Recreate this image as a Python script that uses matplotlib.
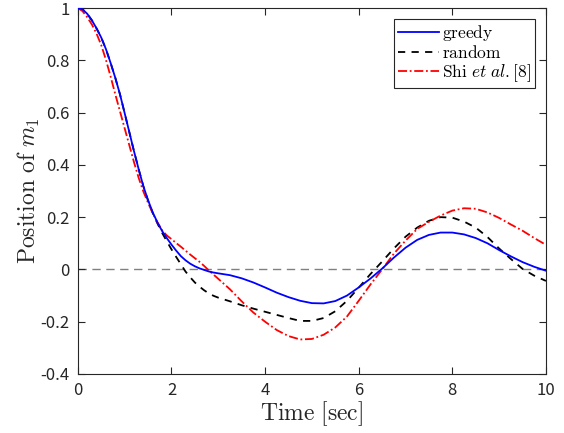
import matplotlib
matplotlib.use("Agg")
import matplotlib.pyplot as plt
from matplotlib.ticker import FixedLocator, FuncFormatter

plt.rcParams['mathtext.fontset'] = 'cm'

time = [0.0, 0.1, 0.2, 0.3, 0.4, 0.5, 0.6, 0.7, 0.8, 0.9, 1.0, 1.1, 1.2, 1.3,
        1.4, 1.5, 1.6, 1.7, 1.8, 1.9, 2.0, 2.1, 2.2, 2.3, 2.4, 2.5, 2.6, 2.7,
        2.8, 2.9, 3.0, 3.25, 3.5, 3.75, 4.0, 4.25, 4.5, 4.75, 5.0, 5.25, 5.5,
        5.75, 6.0, 6.25, 6.5, 6.75, 7.0, 7.25, 7.5, 7.75, 8.0, 8.25, 8.5,
        8.75, 9.0, 9.25, 9.5, 9.75, 10.0]

greedy = [1.0, 0.995, 0.978, 0.953, 0.922, 0.887, 0.843, 0.79, 0.733, 0.67,
          0.598, 0.525, 0.452, 0.383, 0.318, 0.265, 0.218, 0.18, 0.147, 0.12,
          0.095, 0.072, 0.051, 0.035, 0.022, 0.012, 0.004, -0.002, -0.008,
          -0.012, -0.015, -0.022, -0.034, -0.05, -0.069, -0.089, -0.106,
          -0.12, -0.129, -0.13, -0.121, -0.1, -0.069, -0.035, 0.003, 0.045,
          0.083, 0.113, 0.132, 0.141, 0.141, 0.134, 0.12, 0.1, 0.074, 0.05,
          0.028, 0.01, -0.005]

random_ = [1.0, 0.995, 0.978, 0.953, 0.922, 0.887, 0.843, 0.79, 0.733, 0.67,
           0.598, 0.525, 0.452, 0.383, 0.318, 0.263, 0.216, 0.176, 0.14,
           0.108, 0.077, 0.048, 0.02, -0.008, -0.03, -0.05, -0.066, -0.08,
           -0.092, -0.101, -0.108, -0.122, -0.137, -0.15, -0.162, -0.174,
           -0.186, -0.197, -0.197, -0.186, -0.16, -0.12, -0.07, -0.018, 0.03,
           0.08, 0.125, 0.16, 0.186, 0.2, 0.198, 0.183, 0.16, 0.124, 0.08,
           0.04, 0.002, -0.024, -0.044]

shi = [1.0, 0.988, 0.965, 0.937, 0.902, 0.858, 0.802, 0.738, 0.67, 0.605,
       0.54, 0.475, 0.41, 0.35, 0.298, 0.255, 0.215, 0.18, 0.15, 0.13, 0.116,
       0.101, 0.087, 0.072, 0.057, 0.043, 0.029, 0.013, -0.004, -0.02,
       -0.036, -0.076, -0.122, -0.165, -0.2, -0.232, -0.255, -0.268, -0.266,
       -0.25, -0.222, -0.18, -0.12, -0.058, 0.0, 0.06, 0.11, 0.155, 0.182,
       0.206, 0.225, 0.234, 0.232, 0.218, 0.197, 0.172, 0.148, 0.12, 0.094]

labels = [r'$\mathrm{greedy}$', r'$\mathrm{random}$',
          r'$\mathrm{Shi}\ \mathit{et\ al.}[8]$']
xticks = [0, 2, 4, 6, 8, 10]
yticks = [-0.4, -0.2, 0, 0.2, 0.4, 0.6, 0.8, 1]

axc = '#262626'
fig = plt.figure(figsize=(5.64, 4.33), dpi=100)
ax = fig.add_axes([0.138, 0.1363, 0.830, 0.8452])

ax.axhline(0, color='#808080', lw=1.0, ls=(0, (6, 4)), zorder=1)
ax.plot(time, greedy, color='#0000FF', lw=1.3, label=labels[0], zorder=3)
ax.plot(time, random_, color='black', lw=1.3, ls=(0, (4, 3.5)), label=labels[1], zorder=2)
ax.plot(time, shi, color='#FF0000', lw=1.3, ls=(0, (5, 1.5, 1, 1.5)), label=labels[2], zorder=2)

ax.set_xlim(0, 10)
ax.set_ylim(-0.4, 1)
ax.xaxis.set_major_locator(FixedLocator(xticks))
ax.yaxis.set_major_locator(FixedLocator(yticks))
fmt = FuncFormatter(lambda v, p: '%g' % round(v, 2))
ax.xaxis.set_major_formatter(fmt)
ax.yaxis.set_major_formatter(fmt)
ax.tick_params(direction='in', length=5, width=0.8, colors=axc, labelsize=12,
               top=True, right=True, pad=6)
for lab in ax.get_xticklabels() + ax.get_yticklabels():
    lab.set_fontfamily(['Noto Sans CJK JP', 'DejaVu Sans'])
for s in ax.spines.values():
    s.set_color(axc)
    s.set_linewidth(0.8)

ax.set_xlabel(r'$\mathrm{Time}\ [\mathrm{sec}]$', fontsize=17, color=axc, labelpad=0)
ax.set_ylabel(r'$\mathrm{Position\ of\ }m_1$', fontsize=17, color=axc, labelpad=-1)

leg = ax.legend(loc='upper right', fontsize=12.5, frameon=True, fancybox=False,
                edgecolor=axc, framealpha=1, borderpad=0.2, labelspacing=0.05,
                handlelength=2.4, handletextpad=0.15, borderaxespad=0.65)
leg.get_frame().set_linewidth(0.8)

fig.savefig('out.png', dpi=100)
